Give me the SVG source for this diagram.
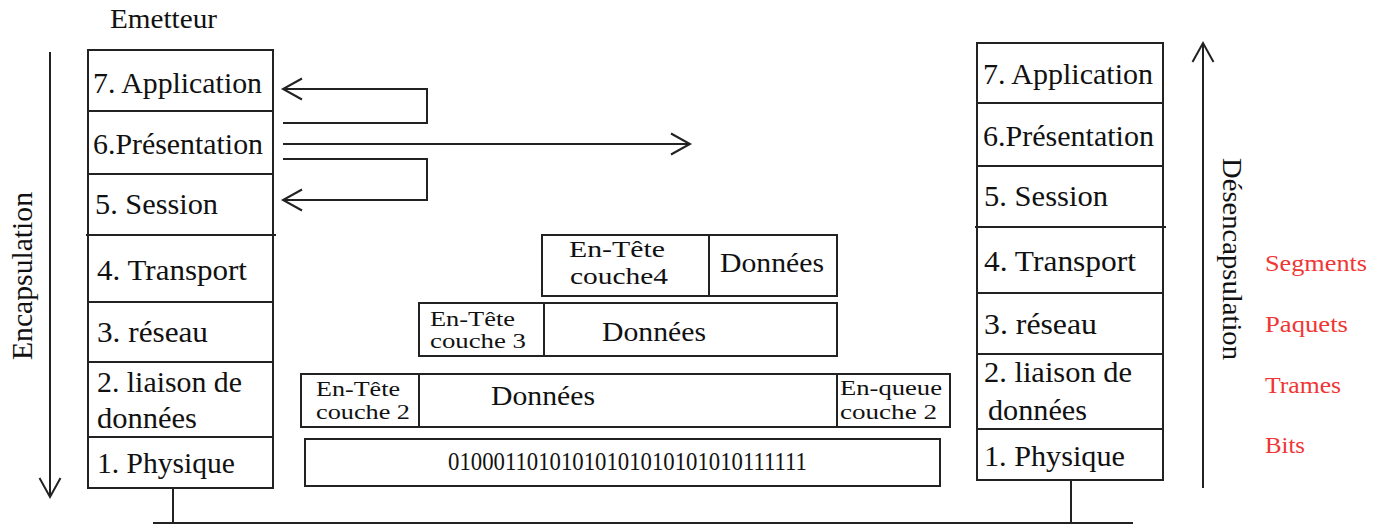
<svg xmlns="http://www.w3.org/2000/svg" width="1382" height="527" viewBox="0 0 1382 527">
<style>
.box{fill:#fff;stroke:#222;stroke-width:2}
.ln{fill:none;stroke:#222;stroke-width:2}
text{font-family:"Liberation Serif","Times New Roman",serif;fill:#111}
.lay{font-size:30px}
.hd{font-size:20px}
.dt{font-size:28px}
.red{font-size:24px;fill:#f03535}
</style>
<defs>
<marker id="chev" markerUnits="userSpaceOnUse" markerWidth="30" markerHeight="30" viewBox="-25 -15 30 30" refX="0" refY="0" orient="auto">
<path d="M-19,-10.5 L0,0 L-19,10.5" fill="none" stroke="#222" stroke-width="2"/>
</marker>
</defs>
<rect width="1382" height="527" fill="#fff"/>

<g id="emetteur-title"><text x="110" y="28" font-size="28" textLength="107" lengthAdjust="spacingAndGlyphs">Emetteur</text></g>

<g id="encapsulation">
<line class="ln" x1="50" y1="52" x2="50" y2="497" marker-end="url(#chev)"/>
<text transform="translate(32,360) rotate(-90)" font-size="30" textLength="168" lengthAdjust="spacingAndGlyphs">Encapsulation</text>
</g>

<g id="sender-stack">
<rect class="box" x="88" y="50" width="185" height="438"/>
<path class="ln" d="M88,111H273M88,174H273M86,235H276M88,302H273M88,362H273M88,437H273"/>
<text class="lay" x="93" y="93" textLength="169" lengthAdjust="spacingAndGlyphs">7. Application</text>
<text class="lay" x="93" y="154" textLength="170" lengthAdjust="spacingAndGlyphs">6.Présentation</text>
<text class="lay" x="95" y="214" textLength="123" lengthAdjust="spacingAndGlyphs">5. Session</text>
<text class="lay" x="97" y="280" textLength="150" lengthAdjust="spacingAndGlyphs">4. Transport</text>
<text class="lay" x="97" y="342" textLength="111" lengthAdjust="spacingAndGlyphs">3. réseau</text>
<text class="lay" x="97" y="392" textLength="145" lengthAdjust="spacingAndGlyphs">2. liaison de</text>
<text class="lay" x="97" y="428" textLength="100" lengthAdjust="spacingAndGlyphs">données</text>
<text class="lay" x="97" y="473" textLength="138" lengthAdjust="spacingAndGlyphs">1. Physique</text>
</g>

<g id="receiver-stack">
<rect class="box" x="977" y="43" width="186" height="437"/>
<path class="ln" d="M977,103H1163M977,166H1163M975,227H1166M977,293H1163M977,354H1163M977,429H1163"/>
<text class="lay" x="983" y="84" textLength="170" lengthAdjust="spacingAndGlyphs">7. Application</text>
<text class="lay" x="983" y="146" textLength="171" lengthAdjust="spacingAndGlyphs">6.Présentation</text>
<text class="lay" x="984" y="206" textLength="124" lengthAdjust="spacingAndGlyphs">5. Session</text>
<text class="lay" x="984" y="271" textLength="152" lengthAdjust="spacingAndGlyphs">4. Transport</text>
<text class="lay" x="984" y="334" textLength="113" lengthAdjust="spacingAndGlyphs">3. réseau</text>
<text class="lay" x="984" y="382" textLength="148" lengthAdjust="spacingAndGlyphs">2. liaison de</text>
<text class="lay" x="988" y="420" textLength="99" lengthAdjust="spacingAndGlyphs">données</text>
<text class="lay" x="984" y="466" textLength="141" lengthAdjust="spacingAndGlyphs">1. Physique</text>
</g>

<g id="desencapsulation">
<line class="ln" x1="1203" y1="488" x2="1203" y2="43" marker-end="url(#chev)"/>
<text transform="translate(1223,158) rotate(90)" font-size="28" textLength="202" lengthAdjust="spacingAndGlyphs">Désencapsulation</text>
</g>

<g id="pdu-labels">
<text class="red" x="1265" y="271" textLength="102" lengthAdjust="spacingAndGlyphs">Segments</text>
<text class="red" x="1265" y="332" textLength="83" lengthAdjust="spacingAndGlyphs">Paquets</text>
<text class="red" x="1265" y="393" textLength="76" lengthAdjust="spacingAndGlyphs">Trames</text>
<text class="red" x="1265" y="453" textLength="40" lengthAdjust="spacingAndGlyphs">Bits</text>
</g>

<g id="pdu-layer4">
<rect class="box" x="542" y="235" width="295" height="61"/>
<line class="ln" x1="709" y1="235" x2="709" y2="296"/>
<text x="569" y="257" font-size="23" textLength="96" lengthAdjust="spacingAndGlyphs">En-Tête</text>
<text x="570" y="284" font-size="23" textLength="98" lengthAdjust="spacingAndGlyphs">couche4</text>
<text class="dt" x="720" y="272" textLength="104" lengthAdjust="spacingAndGlyphs">Données</text>
</g>

<g id="pdu-layer3">
<rect class="box" x="419" y="303" width="418" height="53"/>
<line class="ln" x1="544" y1="303" x2="544" y2="356"/>
<text class="hd" x="430" y="326" textLength="85" lengthAdjust="spacingAndGlyphs">En-Tête</text>
<text class="hd" x="430" y="348" textLength="96" lengthAdjust="spacingAndGlyphs">couche 3</text>
<text class="dt" x="602" y="341" textLength="104" lengthAdjust="spacingAndGlyphs">Données</text>
</g>

<g id="pdu-layer2">
<rect class="box" x="301" y="374" width="649" height="53"/>
<path class="ln" d="M419,374V427M837,374V427"/>
<text class="hd" x="316" y="396" textLength="84" lengthAdjust="spacingAndGlyphs">En-Tête</text>
<text class="hd" x="316" y="419" textLength="94" lengthAdjust="spacingAndGlyphs">couche 2</text>
<text class="dt" x="491" y="405" textLength="104" lengthAdjust="spacingAndGlyphs">Données</text>
<text class="hd" x="840" y="395" textLength="102" lengthAdjust="spacingAndGlyphs">En-queue</text>
<text class="hd" x="840" y="419" textLength="97" lengthAdjust="spacingAndGlyphs">couche 2</text>
</g>

<g id="pdu-layer1">
<rect class="box" x="305" y="439" width="635" height="47"/>
<text x="448" y="470" font-size="26" textLength="359" lengthAdjust="spacingAndGlyphs">01000110101010101010101010111111</text>
</g>

<g id="connectors">
<path class="ln" d="M283,123H427V89H283" marker-end="url(#chev)"/>
<path class="ln" d="M283,144H690" marker-end="url(#chev)"/>
<path class="ln" d="M283,159H427V200H283" marker-end="url(#chev)"/>
<path class="ln" d="M173,488V523M1071,480V523M153,523H1133"/>
</g>
</svg>
